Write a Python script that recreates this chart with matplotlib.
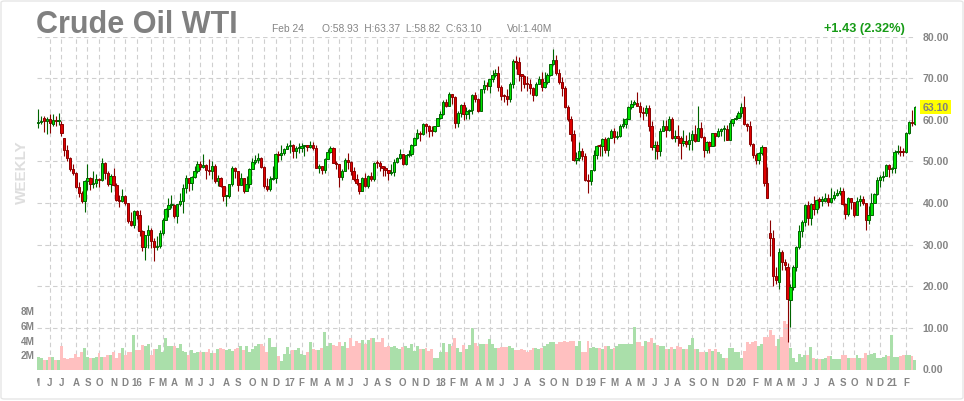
import matplotlib
matplotlib.use("Agg")
import matplotlib.pyplot as plt
from matplotlib.patches import Rectangle, FancyBboxPatch
from matplotlib.transforms import blended_transform_factory
import numpy as np
import pandas as pd

plt.rcParams['font.family'] = ['Liberation Sans', 'DejaVu Sans']

# weekly candles, first week ends Friday 2015-05-08
first_week = '2015-05-08'

opens = [
    59.1, 59.4, 60.4, 59.7, 60.2, 58.9, 60.0, 59.6, 59.0, 55.5,
    52.8, 50.9, 48.1, 47.1, 43.9, 42.5, 40.5, 45.2, 46.1, 44.6,
    44.7, 45.7, 45.5, 49.6, 47.3, 44.6, 46.6, 44.3, 40.7, 40.4,
    41.7, 40.0, 35.6, 34.7, 38.1, 37.0, 33.2, 29.4, 32.2, 33.6,
    30.9, 29.4, 29.6, 32.8, 35.9, 38.5, 39.4, 39.5, 36.8, 39.7,
    40.4, 43.7, 45.9, 44.7, 46.2, 47.8, 49.3, 48.6, 49.1, 48.0,
    47.6, 49.0, 45.4, 46.0, 44.2, 41.6, 41.8, 44.5, 48.5, 47.6,
    44.4, 45.9, 43.0, 44.5, 48.2, 49.8, 50.4, 50.9, 48.7, 44.1,
    43.4, 45.7, 46.1, 51.7, 51.5, 51.9, 53.0, 53.7, 54.0, 52.4,
    53.2, 53.2, 53.8, 53.9, 53.4, 54.0, 53.3, 48.5, 48.8, 48.0,
    50.6, 52.2, 53.2, 49.6, 49.3, 46.2, 47.8, 50.3, 49.8, 47.7,
    45.8, 44.7, 43.0, 46.0, 44.2, 46.5, 45.8, 49.7, 49.6, 48.8,
    48.5, 47.9, 47.3, 47.5, 49.9, 50.7, 51.7, 49.3, 51.5, 51.8,
    53.9, 55.6, 56.7, 56.6, 59.0, 58.4, 57.4, 57.3, 58.5, 60.4,
    61.4, 64.3, 63.4, 66.1, 65.5, 59.2, 61.7, 63.6, 61.3, 62.0,
    62.3, 65.9, 64.9, 62.1, 67.4, 68.4, 68.1, 69.7, 70.7, 71.3,
    67.9, 65.8, 65.7, 65.1, 68.6, 74.2, 73.8, 71.0, 70.5, 68.7,
    68.5, 67.6, 65.9, 68.7, 69.8, 67.8, 69.0, 70.8, 73.3, 74.3,
    71.3, 69.1, 67.6, 63.1, 60.2, 56.5, 50.4, 50.9, 52.6, 51.2,
    45.6, 45.3, 48.0, 51.6, 53.8, 53.7, 55.3, 52.7, 55.6, 57.3,
    55.8, 56.1, 58.5, 59.0, 60.1, 63.1, 63.9, 64.0, 63.3, 61.9,
    61.7, 62.8, 58.6, 53.5, 54.0, 52.5, 57.4, 58.5, 57.5, 60.2,
    55.6, 56.2, 55.7, 54.5, 54.9, 54.2, 55.1, 56.5, 54.9, 58.1,
    55.9, 52.8, 54.7, 53.8, 56.7, 56.2, 57.2, 57.7, 57.8, 55.2,
    59.2, 60.1, 60.4, 61.7, 63.1, 59.0, 58.5, 54.2, 51.6, 50.3,
    52.1, 53.4, 44.8, 32.9, 31.7, 22.4, 21.0, 28.3, 25.9, 24.7,
    16.6, 19.8, 24.7, 29.4, 33.3, 35.5, 39.6, 36.3, 39.8, 38.5,
    40.7, 40.6, 40.6, 41.3, 40.3, 41.2, 42.0, 42.3, 43.0, 39.8,
    37.3, 41.1, 40.3, 37.1, 40.6, 40.9, 39.9, 35.8, 37.1, 40.1,
    42.2, 45.5, 46.3, 46.6, 49.1, 48.2, 48.5, 52.2, 52.4, 52.3,
    52.2, 56.9, 59.5, 58.93]

highs = [
    62.6, 61.0, 60.8, 60.6, 61.4, 61.4, 61.0, 61.6, 59.7, 55.6,
    53.9, 51.1, 49.3, 47.4, 45.0, 42.9, 45.5, 49.3, 46.2, 47.7,
    46.9, 46.0, 50.9, 49.9, 47.6, 46.9, 48.4, 44.7, 42.0, 43.3,
    42.0, 40.0, 37.9, 38.3, 38.4, 38.4, 33.6, 32.4, 34.8, 34.0,
    31.7, 32.0, 33.5, 36.3, 38.8, 41.2, 41.9, 39.7, 39.8, 42.4,
    44.5, 46.8, 46.1, 46.6, 48.8, 50.2, 50.2, 51.7, 49.3, 50.5,
    50.0, 49.3, 46.8, 46.2, 44.2, 42.0, 44.5, 48.8, 48.6, 47.7,
    47.3, 46.1, 46.5, 48.3, 50.7, 51.6, 51.9, 51.0, 48.8, 45.9,
    46.6, 48.8, 52.0, 52.4, 53.9, 53.3, 54.3, 55.2, 54.1, 53.6,
    54.3, 54.5, 54.0, 54.0, 54.9, 54.6, 53.9, 49.3, 49.0, 50.9,
    52.9, 53.8, 53.4, 50.0, 49.4, 48.1, 50.8, 52.0, 50.2, 48.6,
    46.9, 44.8, 46.3, 47.3, 46.8, 47.5, 49.8, 50.4, 50.2, 49.0,
    48.8, 48.0, 49.4, 50.5, 51.0, 52.9, 51.7, 51.5, 52.8, 54.2,
    55.8, 57.7, 57.2, 59.1, 59.1, 58.8, 58.5, 58.6, 60.5, 62.2,
    64.8, 64.9, 66.7, 66.3, 65.6, 62.0, 63.7, 64.2, 63.1, 62.6,
    66.1, 66.7, 65.2, 67.4, 69.6, 69.0, 69.8, 71.9, 72.3, 72.9,
    68.3, 66.3, 67.3, 69.0, 74.5, 75.3, 75.0, 71.0, 70.8, 70.4,
    69.8, 67.8, 69.0, 70.4, 71.4, 71.4, 71.3, 73.3, 76.9, 75.5,
    72.2, 70.2, 68.0, 63.6, 60.9, 57.6, 52.3, 54.6, 53.2, 51.9,
    46.9, 48.0, 52.7, 54.0, 54.1, 55.7, 55.8, 55.8, 57.8, 57.9,
    57.2, 58.9, 60.4, 60.4, 63.4, 64.8, 64.8, 66.6, 64.2, 63.0,
    63.5, 63.6, 59.6, 55.0, 54.8, 58.1, 60.0, 60.0, 60.9, 60.7,
    57.6, 58.8, 56.2, 57.5, 56.4, 57.0, 57.5, 58.8, 63.4, 59.4,
    56.0, 54.9, 54.9, 56.9, 56.9, 57.9, 58.0, 58.8, 58.7, 59.9,
    60.1, 61.1, 62.0, 64.1, 65.7, 59.3, 59.7, 54.3, 52.0, 52.2,
    54.0, 53.5, 48.7, 35.9, 33.6, 24.7, 29.1, 28.6, 26.5, 25.5,
    20.5, 25.0, 29.6, 34.7, 35.8, 39.7, 40.4, 40.0, 41.6, 41.0,
    41.4, 41.8, 42.5, 42.1, 43.5, 43.0, 43.4, 43.8, 43.6, 40.0,
    41.4, 41.2, 40.3, 41.5, 41.9, 41.8, 39.9, 39.3, 42.5, 42.4,
    46.3, 46.7, 47.7, 49.3, 49.3, 48.6, 52.8, 53.9, 53.7, 53.3,
    57.0, 59.8, 62.3, 63.37]

lows = [
    58.0, 58.9, 57.1, 56.5, 56.7, 58.4, 58.5, 58.7, 56.0, 51.2,
    50.2, 47.7, 46.7, 43.7, 41.4, 39.9, 37.8, 43.2, 43.2, 43.6,
    43.8, 43.9, 45.3, 45.7, 44.2, 42.6, 44.1, 40.6, 39.0, 40.2,
    39.6, 35.2, 34.5, 34.0, 36.1, 32.1, 28.4, 26.2, 29.3, 29.3,
    26.1, 28.7, 29.3, 32.3, 35.8, 36.6, 38.9, 36.3, 35.2, 39.2,
    37.6, 42.4, 43.0, 43.2, 46.0, 47.2, 47.9, 48.5, 45.8, 46.7,
    45.8, 44.9, 44.1, 43.8, 40.6, 39.2, 41.3, 44.1, 46.1, 43.0,
    44.3, 42.5, 42.9, 43.7, 48.1, 49.3, 49.6, 48.3, 43.6, 43.0,
    43.0, 45.6, 44.8, 49.9, 50.3, 51.6, 53.0, 52.1, 50.7, 50.9,
    52.0, 52.3, 51.2, 52.4, 53.2, 52.7, 48.3, 47.1, 47.0, 47.1,
    50.5, 52.0, 49.5, 48.2, 43.8, 45.6, 47.8, 48.2, 46.7, 45.2,
    44.3, 42.1, 42.8, 43.8, 43.6, 45.4, 45.4, 48.4, 47.8, 46.5,
    46.6, 45.6, 46.8, 46.5, 49.5, 50.5, 49.1, 49.2, 51.0, 51.3,
    53.8, 55.3, 54.8, 56.3, 56.8, 55.8, 56.1, 57.0, 58.4, 60.1,
    61.2, 63.0, 63.2, 63.7, 58.1, 58.2, 60.7, 60.0, 60.2, 60.1,
    61.3, 64.2, 61.8, 62.0, 66.5, 67.2, 66.5, 69.1, 70.3, 67.0,
    64.8, 64.2, 63.6, 64.3, 67.7, 72.1, 69.3, 67.0, 67.6, 67.0,
    66.2, 64.4, 65.6, 68.5, 66.9, 67.6, 68.5, 70.5, 73.2, 70.8,
    68.5, 65.7, 62.8, 59.6, 54.8, 50.2, 49.4, 50.1, 50.4, 45.3,
    42.4, 44.4, 47.8, 50.6, 51.3, 51.3, 52.1, 51.2, 55.5, 54.5,
    55.4, 55.9, 58.1, 58.0, 60.1, 62.6, 63.5, 63.2, 60.6, 60.0,
    60.9, 57.3, 52.8, 50.6, 50.6, 51.3, 57.2, 55.8, 57.2, 55.3,
    54.7, 53.6, 50.5, 53.8, 53.4, 52.8, 52.7, 54.6, 54.8, 55.5,
    51.0, 51.9, 51.9, 53.6, 53.7, 55.9, 56.0, 55.0, 55.1, 55.1,
    58.5, 59.9, 60.4, 60.6, 58.7, 57.4, 53.8, 50.9, 49.3, 49.4,
    51.5, 44.2, 41.1, 27.3, 20.1, 20.5, 19.3, 24.0, 23.8, 6.5,
    10.1, 19.0, 23.6, 29.0, 31.8, 34.4, 34.7, 34.7, 37.1, 37.6,
    38.7, 39.3, 40.3, 39.2, 40.0, 40.8, 41.6, 42.0, 39.6, 36.1,
    36.9, 38.6, 36.6, 37.0, 39.3, 39.5, 33.6, 34.9, 37.0, 39.9,
    42.0, 43.9, 45.2, 46.5, 46.2, 47.3, 47.2, 51.8, 51.4, 51.4,
    52.0, 56.5, 58.5, 58.82]

closes = [
    59.4, 59.7, 59.7, 60.3, 59.1, 60.0, 59.6, 59.6, 56.9, 52.7,
    50.9, 48.1, 47.1, 43.9, 42.5, 40.5, 45.2, 46.1, 44.6, 44.7,
    45.7, 45.5, 49.6, 47.3, 44.6, 46.6, 44.3, 40.7, 40.4, 41.7,
    40.0, 35.6, 34.7, 38.1, 37.0, 33.2, 29.4, 32.2, 33.6, 30.9,
    29.4, 29.6, 32.8, 35.9, 38.5, 39.4, 39.5, 36.8, 39.7, 40.4,
    43.7, 45.9, 44.7, 46.2, 47.8, 49.3, 48.6, 49.1, 48.0, 47.6,
    49.0, 45.4, 46.0, 44.2, 41.6, 41.8, 44.5, 48.5, 47.6, 44.4,
    45.9, 43.0, 44.5, 48.2, 49.8, 50.4, 50.9, 48.7, 44.1, 43.4,
    45.7, 46.1, 51.7, 51.5, 51.9, 53.0, 53.7, 54.0, 52.4, 53.2,
    53.2, 53.8, 53.9, 53.4, 54.0, 53.3, 48.5, 48.8, 48.0, 50.6,
    52.2, 53.2, 49.6, 49.3, 46.2, 47.8, 50.3, 49.8, 47.7, 45.8,
    44.7, 43.0, 46.0, 44.2, 46.5, 45.8, 49.7, 49.6, 48.8, 48.5,
    47.9, 47.3, 47.5, 49.9, 50.7, 51.7, 49.3, 51.5, 51.8, 53.9,
    55.6, 56.7, 56.6, 59.0, 58.4, 57.4, 57.3, 58.5, 60.4, 61.4,
    64.3, 63.4, 66.1, 65.5, 59.2, 61.7, 63.6, 61.3, 62.0, 62.3,
    65.9, 64.9, 62.1, 67.4, 68.4, 68.1, 69.7, 70.7, 71.3, 67.9,
    65.8, 65.7, 65.1, 68.6, 74.2, 73.8, 71.0, 70.5, 68.7, 68.5,
    67.6, 65.9, 68.7, 69.8, 67.8, 69.0, 70.8, 73.3, 74.3, 71.3,
    69.1, 67.6, 63.1, 60.2, 56.5, 50.4, 50.9, 52.6, 51.2, 45.6,
    45.3, 48.0, 51.6, 53.8, 53.7, 55.3, 52.7, 55.6, 57.3, 55.8,
    56.1, 58.5, 59.0, 60.1, 63.1, 63.9, 64.0, 63.3, 61.9, 61.7,
    62.8, 58.6, 53.5, 54.0, 52.5, 57.4, 58.5, 57.5, 60.2, 55.6,
    56.2, 55.7, 54.5, 54.9, 54.2, 55.1, 56.5, 54.9, 58.1, 55.9,
    52.8, 54.7, 53.8, 56.7, 56.2, 57.2, 57.7, 57.8, 55.2, 59.2,
    60.1, 60.4, 61.7, 63.1, 59.0, 58.5, 54.2, 51.6, 50.3, 52.1,
    53.4, 44.8, 41.3, 31.7, 22.4, 21.5, 28.3, 25.9, 25.0, 16.9,
    19.8, 24.7, 29.4, 33.3, 35.5, 39.6, 36.3, 39.8, 38.5, 40.7,
    40.6, 40.6, 41.3, 40.3, 41.2, 42.0, 42.3, 43.0, 39.8, 37.3,
    41.1, 40.3, 37.1, 40.6, 40.9, 39.9, 35.8, 37.1, 40.1, 42.2,
    45.5, 46.3, 46.6, 49.1, 48.2, 48.5, 52.2, 52.4, 52.3, 52.2,
    56.9, 59.5, 59.2, 63.10]

# weekly volume, millions
volumes = [
    1.8, 1.7, 1.4, 1.4, 1.8, 1.8, 1.3, 1.3, 3.3, 1.6,
    1.5, 1.6, 1.7, 2.2, 1.8, 2.4, 3.0, 1.8, 1.7, 1.7,
    1.8, 2.3, 1.8, 1.8, 2.0, 2.1, 2.4, 1.6, 2.3, 3.0,
    2.1, 2.4, 2.4, 4.8, 2.7, 2.7, 3.4, 3.2, 3.5, 2.1,
    2.9, 2.8, 3.4, 2.5, 4.4, 3.2, 3.2, 3.3, 3.0, 3.5,
    2.6, 2.4, 2.1, 2.7, 2.3, 2.5, 2.4, 2.5, 2.4, 2.9,
    2.3, 2.3, 2.9, 3.0, 2.8, 2.7, 2.9, 2.6, 2.9, 3.0,
    3.2, 2.7, 3.2, 2.5, 2.8, 3.3, 3.5, 3.5, 3.2, 2.5,
    4.4, 3.1, 3.1, 1.9, 1.2, 2.2, 3.1, 2.2, 2.7, 2.7,
    3.0, 2.2, 2.1, 2.5, 3.8, 2.9, 2.7, 2.7, 3.0, 5.2,
    3.2, 3.7, 3.4, 3.3, 3.8, 3.2, 3.8, 3.0, 4.4, 3.3,
    4.0, 3.7, 4.1, 3.6, 4.1, 4.4, 4.3, 3.8, 3.8, 4.4,
    3.1, 3.3, 3.1, 3.3, 3.0, 2.9, 3.1, 3.3, 3.0, 3.6,
    2.6, 3.3, 2.9, 2.9, 3.0, 2.6, 2.9, 1.6, 1.6, 2.4,
    3.7, 2.4, 3.6, 3.3, 4.4, 3.0, 2.4, 3.4, 2.8, 3.4,
    5.7, 3.7, 3.3, 3.5, 3.5, 3.5, 4.2, 3.5, 3.0, 3.0,
    3.1, 3.1, 3.1, 3.3, 3.0, 2.7, 2.7, 2.8, 2.7, 2.4,
    2.7, 3.0, 3.0, 2.8, 3.0, 3.2, 3.5, 3.8, 3.8, 3.6,
    3.8, 3.8, 4.0, 3.8, 4.0, 4.0, 3.2, 4.0, 2.4, 2.4,
    4.0, 3.0, 3.1, 3.0, 3.0, 2.9, 3.2, 3.2, 2.9, 3.0,
    3.2, 3.5, 3.5, 3.6, 3.5, 3.5, 5.8, 3.8, 3.8, 3.3,
    3.9, 3.8, 4.4, 3.7, 3.4, 3.3, 3.2, 2.9, 2.9, 3.1,
    2.9, 3.2, 3.1, 2.8, 2.9, 3.4, 4.3, 2.9, 2.9, 2.5,
    2.5, 2.4, 2.8, 2.6, 2.9, 2.4, 2.2, 1.6, 1.6, 3.0,
    3.0, 2.4, 2.4, 1.6, 2.6, 3.8, 3.5, 3.8, 4.0, 3.3,
    3.6, 4.5, 4.5, 5.4, 4.8, 3.3, 4.2, 4.5, 6.7, 6.2,
    3.0, 1.6, 1.1, 2.2, 1.8, 2.1, 2.1, 3.1, 1.6, 1.5,
    1.5, 1.5, 1.6, 1.9, 1.9, 1.5, 1.5, 1.5, 2.1, 2.1,
    1.6, 1.6, 1.7, 2.1, 1.6, 1.7, 2.3, 2.0, 2.2, 2.3,
    1.7, 1.6, 1.8, 2.0, 1.9, 4.8, 1.8, 1.8, 1.9, 2.0,
    2.1, 2.1, 1.9, 1.40]

price_ticks = [0, 10, 20, 30, 40, 50, 60, 70, 80]
vol_ticks = [2, 4, 6, 8]
title = 'Crude Oil WTI'
last_date = 'Feb 24'
ohlc_text = 'O:58.93  H:63.37  L:58.82  C:63.10'
vol_text = 'Vol:1.40M'
change_text = '+1.43 (2.32%)'
last_price = 63.10

W, H = 964, 402
GRAY = '#858585'
GRID = '#cfcfcf'

o = np.array(opens)
h = np.array(highs)
l = np.array(lows)
c = np.array(closes)
v = np.array(volumes)
n = len(c)
idx = np.arange(n)
up = c >= o

fig = plt.figure(figsize=(W / 100, H / 100), dpi=100)
fig.patch.set_facecolor('white')


def fx(x):
    return x / W


def fy(y):
    return 1 - y / H


# pixel layout of the plot area
step = 2.893
x_first = 38.3
left = x_first - 0.5 * step
right = x_first + (n - 0.5) * step
top = 37.5

axv = fig.add_axes([fx(left), fy(371), (right - left) / W, (371 - top) / H])
ax = fig.add_axes([fx(left), fy(370.5), (right - left) / W, (370.5 - top) / H])
for a in (axv, ax):
    a.set_xlim(-0.5, n - 0.5)
    a.set_xticks([])
    a.set_yticks([])
    for s in a.spines.values():
        s.set_visible(False)
ax.patch.set_alpha(0)
ax.set_ylim(0, 80)
axv.set_ylim(0, (371 - top) / 7.35)

# month grid: first week ending in each month (May 2015 starts just before the data)
weeks = pd.date_range(first_week, periods=n, freq='7D')
month_idx = [-1] + [i for i in range(1, n) if weeks[i].month != weeks[i - 1].month]
month_lab = ['M'] + [str(weeks[i].year % 100) if weeks[i].month == 1 else weeks[i].strftime('%b')[0]
                     for i in month_idx[1:]]
axv.vlines(month_idx[1:], 0, 1, transform=axv.get_xaxis_transform(), colors=GRID,
           linestyles=(0, (4, 3)), lw=0.8, zorder=0)
ax.hlines(price_ticks[1:], -0.5, n - 0.5, colors=GRID, linestyles=(0, (4, 3)), lw=0.8, zorder=0)

# volume
axv.bar(idx, v, width=1.0, color=np.where(up, '#aadfaa', '#ffc0c0'), lw=0, zorder=2)

# candles
edge = np.where(up, '#006400', '#8b0000')
body = np.where(up, '#00e400', '#e00000')
ax.vlines(idx, l, h, colors=edge, lw=0.8, zorder=3)
ax.bar(idx, np.maximum(np.abs(c - o), 0.25), bottom=np.minimum(o, c), width=0.8,
       color=body, edgecolor=edge, lw=0.7, zorder=4)

# month labels
tx = blended_transform_factory(ax.transData, fig.transFigure)
clip = Rectangle((fx(36.5), 0), 1, 1, transform=fig.transFigure)
for i, lab in zip(month_idx, month_lab):
    t = ax.text(i, fy(383.5), lab, transform=tx, ha='center', va='center',
                fontsize=7, fontweight='bold', color=GRAY, clip_on=True)
    t.set_clip_path(clip)

# price labels on the right
ty = blended_transform_factory(fig.transFigure, ax.transData)
for p in price_ticks:
    fig.text(fx(922.5), p, '%.2f' % p, transform=ty, ha='left', va='center',
             fontsize=7.6, fontweight='bold', color=GRAY)
fig.text(fx(922.5), last_price, '%.2f' % last_price, transform=ty, ha='left', va='center',
         fontsize=7.6, fontweight='bold', color='#7f7f7f',
         bbox=dict(boxstyle='square,pad=0.2', fc='#ffff00', ec='none'))

# volume labels on the left
tv = blended_transform_factory(fig.transFigure, axv.transData)
for q in vol_ticks:
    fig.text(fx(34.5), q, '%dM' % q, transform=tv, ha='right', va='center',
             fontsize=7.2, fontweight='bold', color=GRAY)

# header
fig.text(fx(36), fy(32.8), title, ha='left', va='baseline', fontsize=22,
         fontweight='bold', color='#808080')
fig.text(fx(272), fy(32), last_date, ha='left', va='baseline', fontsize=7.4, color=GRAY)
fig.text(fx(322), fy(32), ohlc_text, ha='left', va='baseline', fontsize=7.4, color=GRAY)
fig.text(fx(507), fy(32), vol_text, ha='left', va='baseline', fontsize=7.4, color=GRAY)
fig.text(fx(905), fy(32), change_text, ha='right', va='baseline', fontsize=9.2,
         fontweight='bold', color='#169b16')
fig.text(fx(22), fy(172), 'WEEKLY', rotation=90, ha='center', va='center',
         fontsize=11, fontweight='bold', color='#dedede')

# frame
fig.patches.append(FancyBboxPatch((fx(1), fy(400)), fx(962), 398 / H,
                                  boxstyle='round,pad=0,rounding_size=0.004',
                                  transform=fig.transFigure, fc='none', ec='#e6e6e6', lw=1))

fig.savefig('out.png', dpi=100, facecolor='white')
